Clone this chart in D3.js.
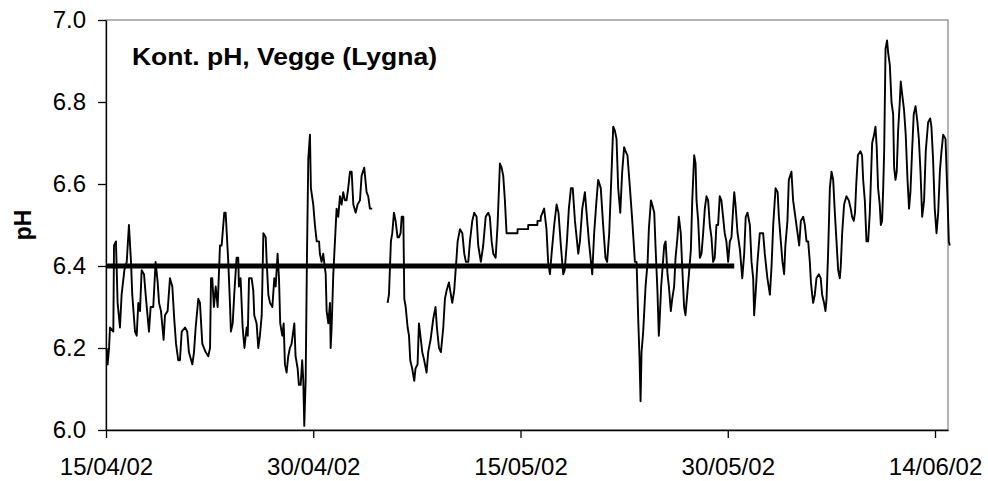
<!DOCTYPE html>
<html>
<head>
<meta charset="utf-8">
<script src="https://cdn.jsdelivr.net/npm/d3@7"></script>
<style>
	body { margin: 0; background: #fff; }
	text { font-family: "Liberation Sans", Arial, sans-serif; fill: #000; }
</style>
</head>
<body>
<svg id="chart" width="988" height="481"></svg>
<script>
// continuous pH log, days after 15/04/02 00:00 (null = no data)
const dayOffsets = [
	0.05,0.12,0.22,0.29,0.53,0.58,0.72,0.84,1.01,1.13,
	1.33,1.50,1.66,1.81,1.90,2.10,2.22,2.34,2.46,2.58,
	2.75,2.87,3.11,3.23,3.42,3.59,3.74,3.84,3.98,4.17,
	4.27,4.46,4.63,4.80,4.94,5.07,5.23,5.35,5.48,5.72,
	5.88,6.00,6.25,6.37,6.49,6.68,6.80,6.97,7.21,7.40,
	7.53,7.60,7.69,7.81,7.94,8.08,8.25,8.37,8.56,8.66,
	8.85,8.97,9.04,9.17,9.28,9.45,9.57,9.62,9.74,9.89,
	10.02,10.18,10.26,10.35,10.54,10.66,10.73,10.90,11.02,11.14,
	11.27,11.39,11.56,11.63,11.75,11.87,12.04,12.18,12.28,12.42,
	12.52,12.61,12.76,12.86,12.95,13.07,13.19,13.31,13.43,13.63,
	13.72,13.87,13.96,14.09,14.20,14.28,14.35,14.45,14.54,14.64,
	14.76,14.83,15.00,15.12,15.25,15.42,15.48,15.60,15.72,15.79,
	15.90,15.97,16.09,16.21,16.26,16.33,16.45,16.57,16.69,16.81,
	16.93,17.05,17.17,17.29,17.41,17.53,17.66,17.78,17.90,18.07,
	18.21,18.38,18.50,18.69,18.86,18.98,19.10,19.27,19.80,20.38,
	20.48,20.62,20.72,20.84,20.96,21.10,21.20,21.32,21.40,21.52,
	21.59,21.69,21.83,21.93,22.02,22.16,22.31,22.40,22.55,22.65,
	22.79,22.89,23.03,23.20,23.32,23.49,23.68,23.85,23.95,24.10,
	24.24,24.41,24.53,24.65,24.82,24.96,25.06,25.20,25.35,25.45,
	25.62,25.79,25.93,26.05,26.22,26.34,26.51,26.65,26.82,26.94,
	27.13,27.30,27.48,27.66,27.78,27.91,28.03,28.20,28.34,28.51,
	28.63,28.75,28.87,28.99,29.11,29.78,29.79,30.55,30.56,31.22,
	31.23,31.46,31.47,31.71,31.88,32.00,32.13,32.25,32.44,32.61,
	32.75,32.92,33.09,33.20,33.36,33.50,33.65,33.78,33.94,34.18,
	34.30,34.47,34.66,34.78,34.95,35.10,35.19,35.33,35.50,35.62,
	35.81,35.98,36.15,36.27,36.42,36.59,36.71,36.83,36.95,37.07,
	37.22,37.36,37.50,37.60,37.74,37.92,38.09,38.28,38.40,38.52,
	38.61,38.69,38.76,38.88,39.05,39.20,39.29,39.44,39.53,39.68,
	39.77,39.91,40.01,40.06,40.18,40.40,40.50,40.64,40.74,40.88,
	40.98,41.12,41.22,41.36,41.46,41.60,41.70,41.84,41.94,42.09,
	42.19,42.33,42.43,42.57,42.67,42.74,42.86,42.98,43.10,43.22,
	43.34,43.46,43.58,43.70,43.82,43.94,44.06,44.18,44.30,44.42,
	44.54,44.66,44.78,44.90,45.03,45.15,45.27,45.39,45.47,45.56,
	45.71,45.88,46.05,46.19,46.30,46.43,46.60,46.72,46.84,46.91,
	47.01,47.15,47.32,47.44,47.56,47.68,47.87,48.05,48.17,48.29,
	48.46,48.61,48.70,48.84,48.96,49.08,49.17,49.32,49.42,49.61,
	49.73,49.85,50.05,50.17,50.29,50.46,50.58,50.70,50.82,50.94,
	51.02,51.11,51.18,51.30,51.42,51.59,51.73,51.83,51.97,52.07,
	52.15,52.27,52.39,52.51,52.63,52.75,52.87,52.99,53.11,53.18,
	53.28,53.42,53.59,53.76,53.90,54.00,54.12,54.21,54.30,54.42,
	54.60,54.72,54.80,54.92,55.04,55.16,55.28,55.35,55.45,55.59,
	55.69,55.78,55.88,56.00,56.08,56.17,56.25,56.32,56.42,56.53,
	56.61,56.73,56.85,56.97,57.04,57.14,57.23,57.33,57.45,57.52,
	57.62,57.76,57.88,58.01,58.12,58.22,58.34,58.46,58.59,58.73,
	58.83,58.95,59.07,59.21,59.33,59.50,59.65,59.74,59.86,59.98,
	60.11,60.23,60.35,60.47,60.59,60.76,60.91,61.00,61.07
];
const phValues = [
	6.20,6.16,6.20,6.25,6.24,6.45,6.46,6.31,6.25,6.33,
	6.39,6.41,6.50,6.41,6.33,6.24,6.23,6.31,6.29,6.39,
	6.38,6.33,6.24,6.30,6.30,6.41,6.36,6.31,6.29,6.22,
	6.28,6.29,6.37,6.35,6.27,6.21,6.17,6.17,6.24,6.25,
	6.24,6.19,6.16,6.19,6.25,6.32,6.31,6.21,6.19,6.18,
	6.20,6.37,6.37,6.30,6.35,6.30,6.45,6.45,6.53,6.53,
	6.41,6.31,6.24,6.26,6.33,6.42,6.42,6.35,6.37,6.25,
	6.20,6.25,6.23,6.37,6.37,6.34,6.28,6.26,6.20,6.23,
	6.28,6.48,6.47,6.41,6.33,6.31,6.30,6.37,6.35,6.43,
	6.37,6.26,6.23,6.26,6.16,6.14,6.18,6.20,6.21,6.26,
	6.18,6.15,6.11,6.11,6.17,6.12,6.01,6.12,6.41,6.66,
	6.72,6.59,6.55,6.50,6.46,6.46,6.43,6.41,6.43,6.41,
	6.38,6.29,6.26,6.31,6.20,6.25,6.38,6.46,6.54,6.52,
	6.57,6.55,6.58,6.56,6.56,6.59,6.63,6.63,6.55,6.53,
	6.55,6.56,6.62,6.64,6.58,6.57,6.54,6.54,null,6.31,
	6.33,6.46,6.48,6.53,6.51,6.47,6.47,6.48,6.52,6.52,
	6.32,6.30,6.25,6.23,6.17,6.15,6.12,6.15,6.16,6.26,
	6.22,6.19,6.17,6.14,6.19,6.22,6.27,6.30,6.25,6.20,
	6.19,6.25,6.32,6.34,6.36,6.33,6.31,6.34,6.41,6.46,
	6.49,6.48,6.43,6.41,6.41,6.46,6.51,6.53,6.52,6.45,
	6.41,6.45,6.52,6.53,6.52,6.46,6.43,6.42,6.50,6.65,
	6.64,6.62,6.56,6.48,6.48,6.48,6.49,6.49,6.50,6.50,
	6.51,6.51,6.52,6.54,6.49,6.41,6.38,6.43,6.50,6.55,
	6.53,6.45,6.38,6.39,6.46,6.54,6.59,6.59,6.51,6.43,
	6.46,6.54,6.58,6.53,6.46,6.41,6.38,6.48,6.56,6.61,
	6.59,6.50,6.42,6.41,6.48,6.63,6.74,6.73,6.71,6.59,
	6.53,6.63,6.69,6.68,6.67,6.59,6.51,6.41,6.41,6.27,
	6.18,6.07,6.19,6.24,6.35,6.41,6.49,6.56,6.55,6.53,
	6.45,6.34,6.23,6.26,6.35,6.45,6.46,6.38,6.35,6.29,
	6.32,6.35,6.42,6.47,6.52,6.48,6.40,6.30,6.28,6.34,
	6.38,6.44,6.56,6.67,6.65,6.56,6.51,6.42,6.43,6.48,
	6.54,6.57,6.56,6.50,6.47,6.41,6.42,6.50,6.50,6.57,
	6.56,6.52,6.48,6.46,6.41,6.46,6.47,6.54,6.58,6.55,
	6.48,6.44,6.37,6.43,6.52,6.53,6.50,6.41,6.37,6.28,
	6.33,6.41,6.48,6.48,6.48,6.43,6.37,6.33,6.40,6.50,
	6.59,6.58,6.52,6.46,6.41,6.38,6.45,6.51,6.61,6.63,
	6.56,6.53,6.48,6.45,6.51,6.52,6.50,6.46,6.46,6.41,
	6.36,6.33,6.31,6.33,6.37,6.38,6.37,6.33,6.31,6.29,
	6.32,6.44,6.59,6.63,6.61,6.53,6.46,6.39,6.37,6.40,
	6.48,6.55,6.57,6.56,6.54,6.52,6.51,6.53,6.60,6.67,
	6.68,6.67,6.61,6.56,6.46,6.46,6.53,6.60,6.70,6.72,
	6.74,6.69,6.59,6.55,6.50,6.51,6.59,6.68,6.93,6.95,
	6.92,6.89,6.80,6.77,6.64,6.61,6.63,6.73,6.80,6.85,
	6.82,6.78,6.72,6.61,6.54,6.58,6.68,6.77,6.79,6.75,
	6.71,6.63,6.52,6.56,6.68,6.75,6.76,6.74,6.66,6.54,
	6.48,6.53,6.63,6.68,6.72,6.71,6.56,6.46,6.45
];

// reference level, drawn from start to refEndDay
const refLevel = 6.4;
const refEndDay = 45.47;
const axisEndDay = 60.94;

const xTickLabels = ['15/04/02', '30/04/02', '15/05/02', '30/05/02', '14/06/02'];
const yTickValues = [6.0, 6.2, 6.4, 6.6, 6.8, 7.0];
const title = 'Kont. pH, Vegge (Lygna)';
const yTitle = 'pH';

const startMs = Date.UTC(2002, 3, 15);
const dayToDate = d => new Date(startMs + d * 864e5);
const parseDate = d3.utcParse('%d/%m/%y');

const readings = dayOffsets.map((d, i) => ({ date: dayToDate(d), ph: phValues[i] }));

const plot = { left: 106, top: 20, right: 948, bottom: 430 };

const svg = d3.select('#chart');

const x = d3.scaleUtc()
	.domain([dayToDate(0), dayToDate(axisEndDay)])
	.range([plot.left, plot.right]);

const y = d3.scaleLinear()
	.domain([6.0, 7.0])
	.range([plot.bottom, plot.top]);

// plot area border (grey, like the spreadsheet frame)
svg.append('rect')
	.attr('x', plot.left)
	.attr('y', plot.top)
	.attr('width', plot.right - plot.left)
	.attr('height', plot.bottom - plot.top)
	.attr('fill', 'none')
	.attr('stroke', '#8c8c8c')
	.attr('stroke-width', 1.3);

// data line
const line = d3.line()
	.defined(d => d.ph != null)
	.x(d => x(d.date))
	.y(d => y(d.ph));

svg.append('path')
	.datum(readings)
	.attr('d', line)
	.attr('fill', 'none')
	.attr('stroke', '#000')
	.attr('stroke-width', 1.9)
	.attr('stroke-linejoin', 'round');

// reference line
svg.append('line')
	.attr('x1', x(dayToDate(0)))
	.attr('x2', x(dayToDate(refEndDay)))
	.attr('y1', y(refLevel))
	.attr('y2', y(refLevel))
	.attr('stroke', '#000')
	.attr('stroke-width', 5);

// axes
const xAxis = svg.append('g')
	.attr('transform', `translate(0,${plot.bottom})`)
	.call(d3.axisBottom(x)
		.tickValues(xTickLabels.map(parseDate))
		.tickFormat(d3.utcFormat('%d/%m/%y'))
		.tickSize(8)
		.tickSizeOuter(0)
		.tickPadding(20));

const yAxis = svg.append('g')
	.attr('transform', `translate(${plot.left},0)`)
	.call(d3.axisLeft(y)
		.tickValues(yTickValues)
		.tickFormat(d3.format('.1f'))
		.tickSize(8)
		.tickSizeOuter(0)
		.tickPadding(12));

styleAxis(xAxis);
styleAxis(yAxis);

// same look for both axes
function styleAxis(g) {
	g.select('.domain').attr('stroke', '#000').attr('stroke-width', 1.3);
	g.selectAll('.tick line').attr('stroke', '#000').attr('stroke-width', 1.3);
	g.selectAll('.tick text')
		.attr('font-size', 24)
		.attr('font-family', '"Liberation Sans", Arial, sans-serif')
		.attr('fill', '#000');
}

// texts
svg.append('text')
	.attr('x', 132)
	.attr('y', 65)
	.attr('font-size', 24)
	.attr('font-weight', 'bold')
	.attr('textLength', 305)
	.attr('lengthAdjust', 'spacingAndGlyphs')
	.text(title);

svg.append('text')
	.attr('transform', 'translate(31,225) rotate(-90)')
	.attr('text-anchor', 'middle')
	.attr('font-size', 23)
	.attr('font-weight', 'bold')
	.text(yTitle);
</script>
</body>
</html>
